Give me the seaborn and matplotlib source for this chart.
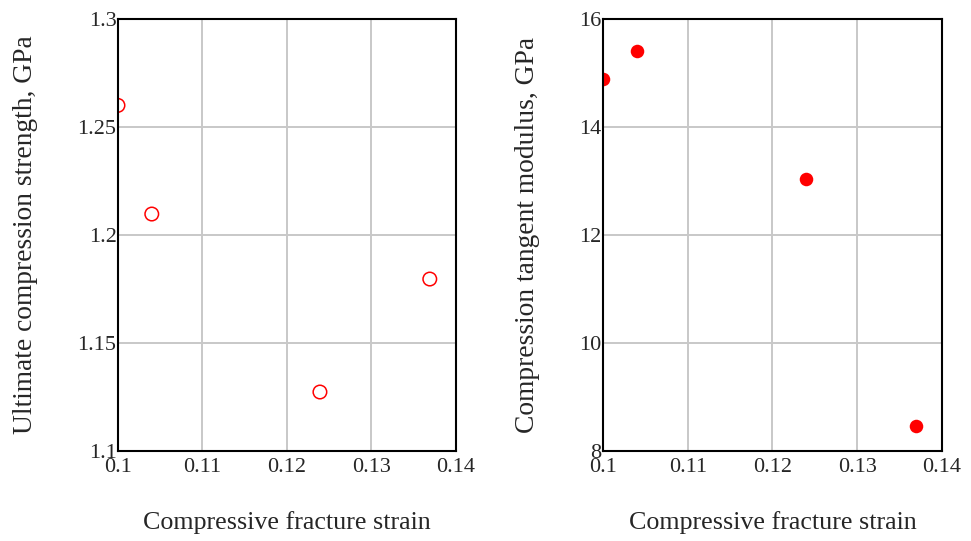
import matplotlib.pyplot as plt
import pandas as pd
import seaborn as sns

# Data
strain = [0.100, 0.104, 0.1239, 0.1369]
strength = [1.260, 1.2097, 1.1273, 1.1796]
modulus = [14.89, 15.41, 13.04, 8.46]

x_ticks = [0.1, 0.11, 0.12, 0.13, 0.14]
x_tick_labels = ['0.1', '0.11', '0.12', '0.13', '0.14']
strength_ticks = [1.1, 1.15, 1.2, 1.25, 1.3]
strength_tick_labels = ['1.1', '1.15', '1.2', '1.25', '1.3']
modulus_ticks = [8, 10, 12, 14, 16]
modulus_tick_labels = ['8', '10', '12', '14', '16']

df = pd.DataFrame({'strain': strain, 'strength': strength, 'modulus': modulus})

sns.set_style('white')
plt.rcParams['font.family'] = ['Liberation Serif', 'DejaVu Serif']

fig = plt.figure(figsize=(9.71, 5.41), dpi=100)
ax_left = fig.add_axes([0.1215, 0.1664, 0.3481, 0.7985])
ax_right = fig.add_axes([0.6210, 0.1664, 0.3491, 0.7985])

red = '#ff0000'
sns.scatterplot(data=df, x='strain', y='strength', ax=ax_left,
                marker='o', s=95, facecolors='none', edgecolor=red,
                linewidth=1.1)
sns.scatterplot(data=df, x='strain', y='modulus', ax=ax_right,
                marker='o', s=95, color=red, edgecolor=red, linewidth=0)


def style_axis(ax, yticks, ylabels, ylabel, ylabel_x):
    ax.set_xlim(0.1, 0.14)
    ax.set_ylim(yticks[0], yticks[-1])
    ax.set_xticks(x_ticks)
    ax.set_xticklabels(x_tick_labels, fontsize=16)
    ax.set_yticks(yticks)
    ax.set_yticklabels(ylabels, fontsize=16)
    ax.tick_params(axis='x', length=0, pad=5)
    ax.tick_params(axis='y', length=0, pad=1)
    ax.grid(True, color='#c8c8c8', linewidth=1.4)
    ax.set_axisbelow(True)
    for sp in ax.spines.values():
        sp.set_visible(True)
        sp.set_color('black')
        sp.set_linewidth(1.5)
    ax.set_xlabel('Compressive fracture strain', fontsize=18.7)
    ax.set_ylabel(ylabel, fontsize=19.8)
    ax.xaxis.set_label_coords(0.5, -0.14)
    ax.yaxis.set_label_coords(ylabel_x, 0.5)


style_axis(ax_left, strength_ticks, strength_tick_labels,
           'Ultimate compression strength, GPa', -0.237)
style_axis(ax_right, modulus_ticks, modulus_tick_labels,
           'Compression tangent modulus, GPa', -0.186)

plt.savefig('out.png', dpi=100)
